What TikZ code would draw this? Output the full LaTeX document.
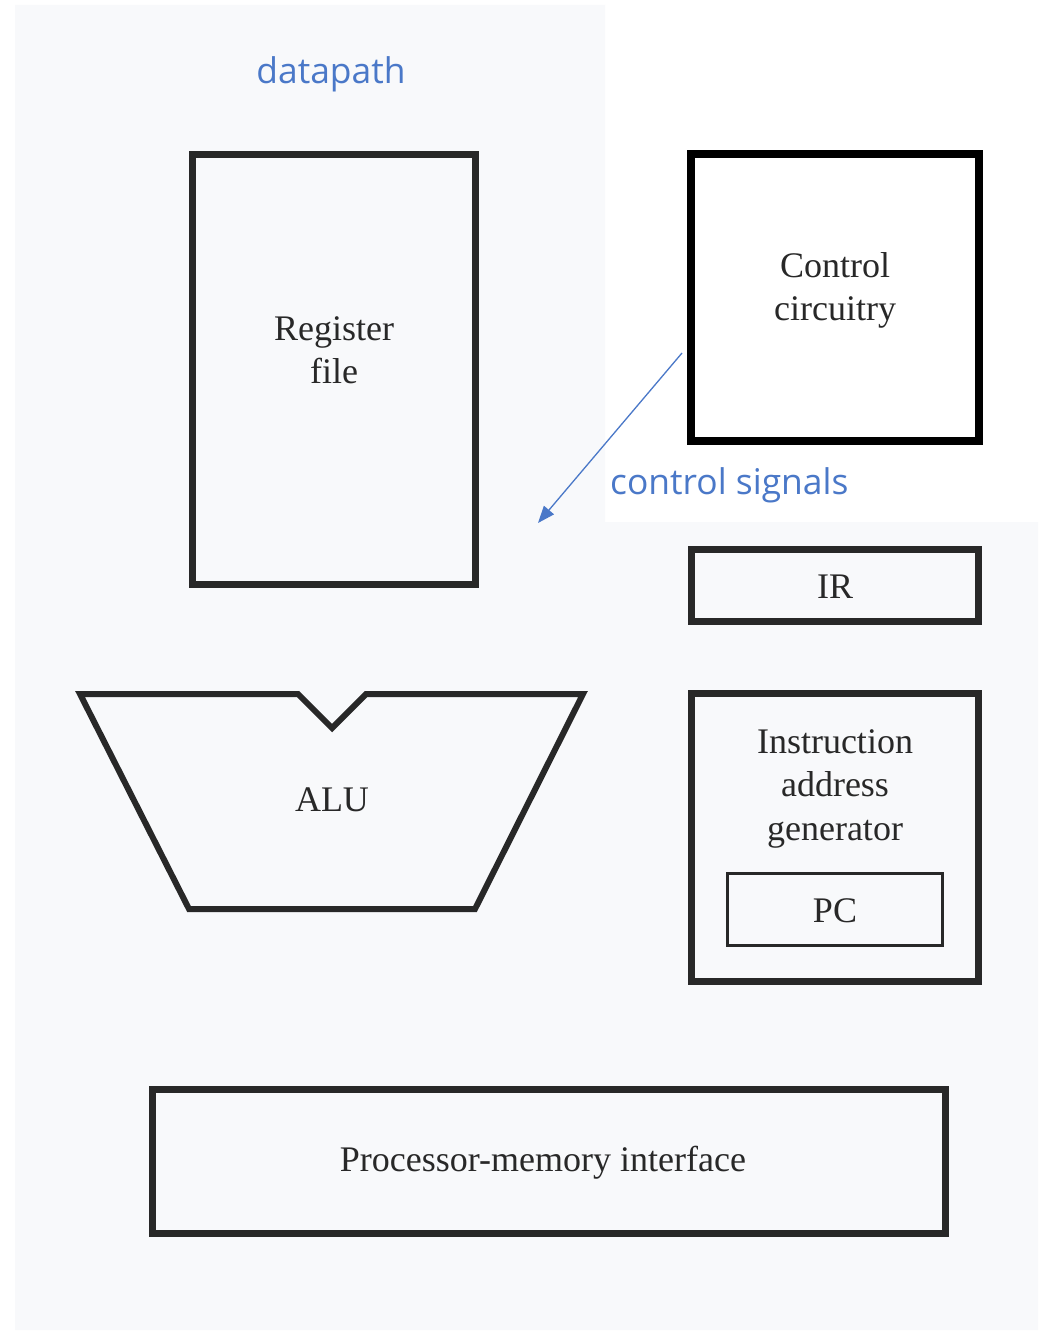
\documentclass[tikz,border=0pt]{standalone}
\usepackage{fontspec}
\setmainfont{Liberation Serif}
\newfontfamily\bluefont{Open Sans}
\usetikzlibrary{arrows.meta}
\definecolor{bgc}{HTML}{F8F9FB}
\definecolor{linec}{HTML}{282828}
\definecolor{bluec}{HTML}{4A78C8}
\begin{document}
\begin{tikzpicture}[x=1pt,y=-1pt,
  box/.style={draw=linec,line width=7pt,inner sep=0pt,rectangle},
  lbl/.style={font=\fontsize{36}{43.5}\selectfont,text=linec,align=center,inner sep=0pt},
  bluelbl/.style={font=\bluefont\fontsize{35.4}{42}\selectfont,text=bluec,inner sep=0pt}]
\useasboundingbox (0,0) rectangle (1038,1332);
\fill[white] (0,0) rectangle (1038,1332);
\fill[bgc] (15,5) -- (605,5) -- (605,522) -- (1038,522) -- (1038,1330) -- (15,1330) -- cycle;
% boxes
\node[box,minimum width=283pt,minimum height=429pt] (rf) at (333.5,369.5) {};
\node[box,draw=black,line width=7.5pt,minimum width=288pt,minimum height=287pt] (cc) at (835,297.5) {};
\node[box,minimum width=287pt,minimum height=71.5pt] (ir) at (834.5,585.25) {};
\node[box,minimum width=287pt,minimum height=288pt] (iag) at (834.5,837) {};
\node[box,line width=3pt,minimum width=215pt,minimum height=72pt] (pc) at (835,909.5) {};
\node[box,minimum width=793pt,minimum height=144pt] (pmi) at (548.5,1161.5) {};
% ALU
\draw[linec,line width=6pt,line join=miter] (80,694) -- (298,694) -- (332,728) -- (366,694) -- (583,694) -- (475,909) -- (189,909) -- cycle;
% labels (base anchor = baseline of last line)
\node[lbl,anchor=base] (rft) at (334,383.5) {Register\\file};
\node[lbl,anchor=base] (cct) at (835,320.5) {Control\\circuitry};
\node[lbl,anchor=base] (irt) at (835,598) {IR};
\node[lbl,anchor=base] (iagt) at (835,840) {Instruction\\address\\generator};
\node[lbl,anchor=base] (pct) at (835,922) {PC};
\node[lbl,anchor=base] (alut) at (332,811) {ALU};
\node[lbl,anchor=base] (pmit) at (543,1171) {Processor-memory interface};
\node[bluelbl,anchor=base] (dp) at (331,84) {datapath};
\node[bluelbl,anchor=base west] (cs) at (610,494) {control signals};
% arrow
\coordinate (as) at (682,353);
\coordinate (ae) at (538,523);
\draw[bluec,line width=1.3pt,-{Triangle[length=17pt,width=13pt]}] (as) -- (ae);
\end{tikzpicture}
\end{document}
